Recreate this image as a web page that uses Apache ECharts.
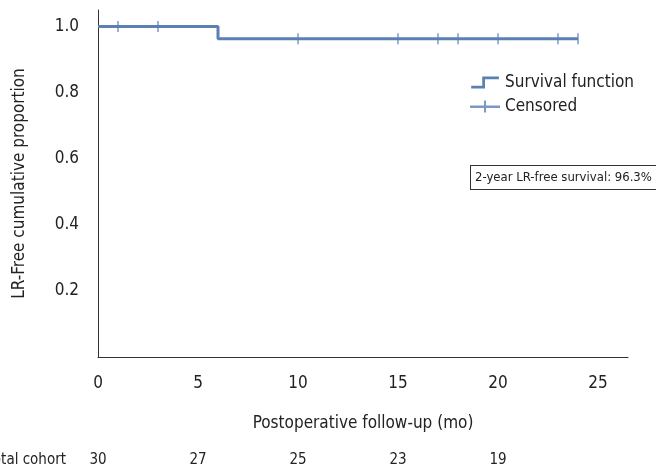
<!DOCTYPE html>
<html><head><meta charset="utf-8">
<script src="https://cdn.jsdelivr.net/npm/echarts@6/dist/echarts.min.js"></script>
<style>html,body{margin:0;padding:0;background:#fff}#c{width:656px;height:467px}</style>
</head><body><div id="c"></div>
<script>
var FONT = '"Liberation Sans Narrow","DejaVu Sans Condensed",sans-serif';
var stepTimes = [0, 6, 24];
var stepSurv = [1.0, 0.963, 0.963];
var censorTimes = [1, 3, 10, 15, 17, 18, 20, 23, 24];
var censorSurv = [1.0, 1.0, 0.963, 0.963, 0.963, 0.963, 0.963, 0.963, 0.963];
var riskTimes = [0, 5, 10, 15, 20];
var riskCounts = [30, 27, 25, 23, 19];
var xTicks = [0, 5, 10, 15, 20, 25];
var yTicks = [0.2, 0.4, 0.6, 0.8, 1.0];
var COLOR = '#5b80b2';

var stepData = stepTimes.map(function(t, i){ return [t, stepSurv[i]]; });
var censorData = censorTimes.map(function(t, i){ return [t, censorSurv[i]]; });

var chart = echarts.init(document.getElementById('c'));
chart.setOption({
  animation: false,
  textStyle: {fontFamily: FONT},
  grid: {left: 98, right: 28, top: 10, bottom: 110, outerBoundsMode: 'none', containLabel: false},
  legend: {
    right: 17, top: 69, orient: 'vertical', itemGap: 7, itemWidth: 30, itemHeight: 12,
    textStyle: {fontFamily: FONT, fontSize: 17, color: '#222'},
    data: [
      {name: 'Survival function', icon: 'path://M0,10 L12,10 L12,0 L30,0 L30,3 L15,3 L15,13 L0,13 Z'},
      {name: 'Censored', icon: 'path://M0,5 L14,5 L14,0 L16,0 L16,5 L30,5 L30,7.5 L16,7.5 L16,12 L14,12 L14,7.5 L0,7.5 Z'}
    ]
  },
  xAxis: [{
    type: 'value', min: 0, max: 26.5, interval: 5,
    axisLine: {show: true, lineStyle: {color: '#333', width: 1}},
    axisTick: {show: false}, splitLine: {show: false},
    axisLabel: {showMaxLabel: false, fontSize: 17, color: '#222', margin: 18,
      formatter: function(v){ return xTicks.indexOf(v) >= 0 ? String(v) : ''; }},
    name: 'Postoperative follow-up (mo)', nameLocation: 'middle', nameGap: 58,
    nameTextStyle: {fontSize: 17, color: '#222', fontFamily: FONT}
  }, {
    type: 'value', min: 0, max: 26.5, interval: 5, position: 'bottom', offset: 96,
    axisLine: {show: false}, axisTick: {show: false}, splitLine: {show: false},
    axisLabel: {showMaxLabel: false, fontSize: 15, color: '#222', margin: 0,
      formatter: function(v){ var i = riskTimes.indexOf(v); return i >= 0 ? String(riskCounts[i]) : ''; }}
  }],
  yAxis: {
    type: 'value', min: 0, max: 1.05, interval: 0.2,
    axisLine: {show: true, lineStyle: {color: '#333', width: 1}},
    axisTick: {show: false}, splitLine: {show: false},
    axisLabel: {showMinLabel: false, showMaxLabel: false, fontSize: 17, color: '#222', margin: 19,
      formatter: function(v){ var r = Math.round(v*10)/10; return yTicks.indexOf(r) >= 0 ? r.toFixed(1) : ''; }},
    name: 'LR-Free cumulative proportion', nameLocation: 'middle', nameGap: 70,
    nameTextStyle: {fontSize: 17, color: '#222', fontFamily: FONT}
  },
  series: [{
    name: 'Survival function', type: 'line', step: 'end', data: stepData,
    showSymbol: false, symbol: 'none', color: COLOR,
    lineStyle: {color: COLOR, width: 3}
  }, {
    name: 'Censored', type: 'scatter', data: censorData, color: COLOR,
    symbol: 'rect', symbolSize: [1.5, 11],
    itemStyle: {color: COLOR}
  }, {
    type: 'scatter', xAxisIndex: 1, data: [], silent: true
  }],
  graphic: [{
    type: 'text', x: 66, y: 453,
    style: {text: 'Total cohort', font: '15px ' + FONT, fill: '#222', align: 'right'}
  }, {
    type: 'text', x: 471, y: 166,
    style: {text: '2-year LR-free survival: 96.3%', font: '13px ' + FONT, fill: '#222',
      borderColor: '#333', borderWidth: 1, padding: [5, 20, 5, 4], backgroundColor: '#fff'}
  }]
});
</script></body></html>
